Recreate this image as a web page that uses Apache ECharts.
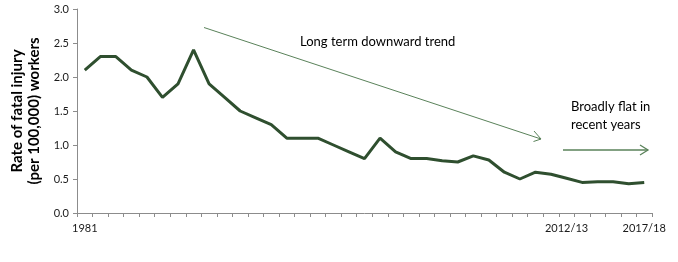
<!DOCTYPE html>
<html>
<head>
<meta charset="utf-8">
<script src="https://cdn.jsdelivr.net/npm/echarts@6/dist/echarts.min.js"></script>
<style>
html,body{margin:0;padding:0;background:#fff;}
#c{width:678px;height:262px;}
</style>
</head>
<body>
<div id="c"></div>
<script>
// Categories: 1981-1985 calendar years, then financial years to 2017/18
const categories = ['1981','1982','1983','1984','1985'];
for (let y = 1986; y <= 2017; y++) {
  categories.push(y + '/' + String((y + 1) % 100).padStart(2, '0'));
}
const rateValues = [2.1,2.3,2.3,2.1,2.0,1.7,1.9,2.4,1.9,1.7,1.5,1.4,1.3,1.1,1.1,1.1,1.0,0.9,0.8,1.1,
                    0.9,0.8,0.8,0.77,0.75,0.84,0.78,0.6,0.5,0.6,0.57,0.51,0.45,0.46,0.46,0.43,0.45];
const shownLabels = ['1981','2012/13','2017/18'];
const yAxisTitle = 'Rate of fatal injury\n(per 100,000) workers';
const note1 = 'Long term downward trend';
const note2 = 'Broadly flat in\nrecent years';

const FONT = 'Lato, "Open Sans", sans-serif';
const arrowColor = '#5a825a';
const chart = echarts.init(document.getElementById('c'), null, {renderer:'canvas'});
chart.setOption({
  animation:false,
  backgroundColor:'#fff',
  grid:{left:77, right:26, top:9, bottom:49},
  xAxis:{
    type:'category', data:categories, boundaryGap:true,
    axisLine:{lineStyle:{color:'#8c8c8c', width:1}},
    axisTick:{show:true, interval:0, length:4, lineStyle:{color:'#8c8c8c'}},
    axisLabel:{interval:function(i, v){return shownLabels.indexOf(v) >= 0;},
      color:'#1a1a1a', fontSize:11, fontFamily:FONT, margin:10},
    splitLine:{show:false}
  },
  yAxis:{
    type:'value', min:0, max:3, interval:0.5,
    name:yAxisTitle, nameLocation:'middle', nameRotate:90, nameGap:31,
    nameTextStyle:{fontSize:15, fontWeight:'bold', color:'#000', fontFamily:FONT, lineHeight:17, align:'center'},
    axisLine:{show:true, lineStyle:{color:'#8c8c8c'}},
    axisTick:{show:true, length:4, lineStyle:{color:'#8c8c8c'}},
    axisLabel:{formatter:v=>v.toFixed(1), color:'#1a1a1a', fontSize:11, fontFamily:FONT, margin:8},
    splitLine:{show:false}
  },
  series:[{
    type:'line', data:rateValues, symbol:'none',
    lineStyle:{color:'#2f4f2f', width:3}
  }],
  graphic:[
    {type:'line', shape:{x1:204, y1:27.5, x2:541, y2:139}, style:{stroke:arrowColor, lineWidth:1}},
    {type:'polyline', shape:{points:[[534,131],[541,139],[533.5,141.5]]}, style:{stroke:arrowColor, lineWidth:1, fill:null}},
    {type:'line', shape:{x1:563, y1:150, x2:648, y2:150}, style:{stroke:arrowColor, lineWidth:1.3}},
    {type:'polyline', shape:{points:[[640,145],[648,150],[640,155]]}, style:{stroke:arrowColor, lineWidth:1.3, fill:null}},
    {type:'text', left:300, top:35, style:{text:note1, fontSize:13, fontFamily:FONT, fill:'#000'}},
    {type:'text', left:571, top:98, style:{text:note2, fontSize:13, fontFamily:FONT, fill:'#000', lineHeight:18}}
  ]
});
</script>
</body>
</html>
